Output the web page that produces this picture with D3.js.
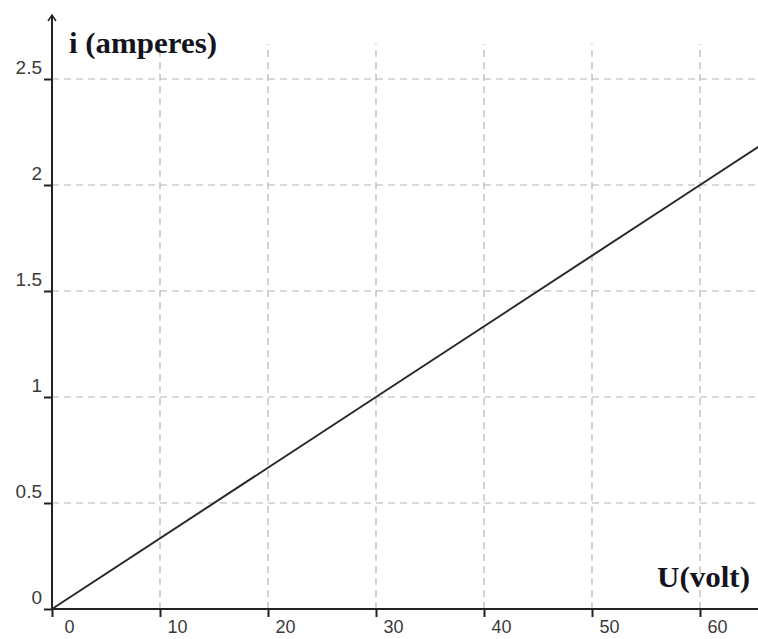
<!DOCTYPE html>
<html><head><meta charset="utf-8">
<script src="https://cdn.jsdelivr.net/npm/d3@7/dist/d3.min.js"></script>
<style>body{margin:0;background:#fff}svg{display:block}</style>
</head><body>
<svg id="c" width="758" height="639"></svg>
<script>
const voltage = [0, 30, 60, 65.4];
const current = [0, 1, 2, 2.18];
const xTicks = [0, 10, 20, 30, 40, 50, 60];
const yTicks = [0, 0.5, 1, 1.5, 2, 2.5];
const xTitle = "U(volt)";
const yTitle = "i (amperes)";

const svg = d3.select("#c");
const x = d3.scaleLinear().domain([0, 60]).range([52, 700]);
const y = d3.scaleLinear().domain([0, 2.5]).range([609, 79]);

// grid
svg.append("g").selectAll("line").data(xTicks.filter(d => d > 0)).join("line")
  .attr("x1", d => x(d)).attr("x2", d => x(d)).attr("y1", y(0)).attr("y2", 44)
  .attr("stroke", "#b4b4b4").attr("stroke-width", 1.2).attr("stroke-dasharray", "7,5");
svg.append("g").selectAll("line").data(yTicks.filter(d => d > 0)).join("line")
  .attr("x1", x(0)).attr("x2", 758).attr("y1", d => y(d)).attr("y2", d => y(d))
  .attr("stroke", "#b4b4b4").attr("stroke-width", 1.2).attr("stroke-dasharray", "7,5");

const tickFont = "Liberation Sans, Arial, sans-serif";

// axes
const xAxis = d3.axisBottom(x).tickValues(xTicks).tickSize(8).tickFormat(d3.format("d"));
const gx = svg.append("g").attr("transform", `translate(0,${y(0)})`).call(xAxis);
gx.select(".domain").remove();
gx.append("line").attr("x1", x(0)).attr("x2", 758).attr("stroke", "#222").attr("stroke-width", 2);
gx.selectAll(".tick line").attr("stroke", "#222").attr("stroke-width", 2).attr("y1", 0);
gx.selectAll(".tick text").attr("dx", 17).attr("y", 18).attr("dy", "0.35em")
  .attr("font-family", tickFont).attr("font-size", 18).attr("fill", "#3a3a3a");

const yAxis = d3.axisLeft(y).tickValues(yTicks).tickSize(8).tickFormat(d => d);
const gy = svg.append("g").attr("transform", `translate(${x(0)},0)`).call(yAxis);
gy.select(".domain").remove();
gy.append("line").attr("y1", y(0)).attr("y2", 15).attr("stroke", "#222").attr("stroke-width", 2);
gy.append("path").attr("d", "M-4,21 L0,15 L4,21").attr("fill", "none").attr("stroke", "#222").attr("stroke-width", 1.5);
gy.selectAll(".tick line").attr("stroke", "#222").attr("stroke-width", 2);
gy.selectAll(".tick text").attr("x", -10).attr("y", -12).attr("dy", "0.35em")
  .attr("font-family", tickFont).attr("font-size", 19).attr("fill", "#3a3a3a");

// line
const line = d3.line().x((d, i) => x(voltage[i])).y((d, i) => y(current[i]));
svg.append("path").datum(voltage).attr("d", line)
  .attr("fill", "none").attr("stroke", "#2a2a2a").attr("stroke-width", 2);

// titles
const titleFont = "Liberation Serif, Times New Roman, serif";
svg.append("text").attr("x", 69).attr("y", 53).text(yTitle)
  .attr("font-family", titleFont).attr("font-weight", "bold")
  .attr("font-size", 29).attr("fill", "#141420")
  .attr("textLength", 148).attr("lengthAdjust", "spacingAndGlyphs");
svg.append("text").attr("x", 657).attr("y", 587).text(xTitle)
  .attr("font-family", titleFont).attr("font-weight", "bold")
  .attr("font-size", 29).attr("fill", "#141420")
  .attr("textLength", 93).attr("lengthAdjust", "spacingAndGlyphs");
</script>
</body></html>
